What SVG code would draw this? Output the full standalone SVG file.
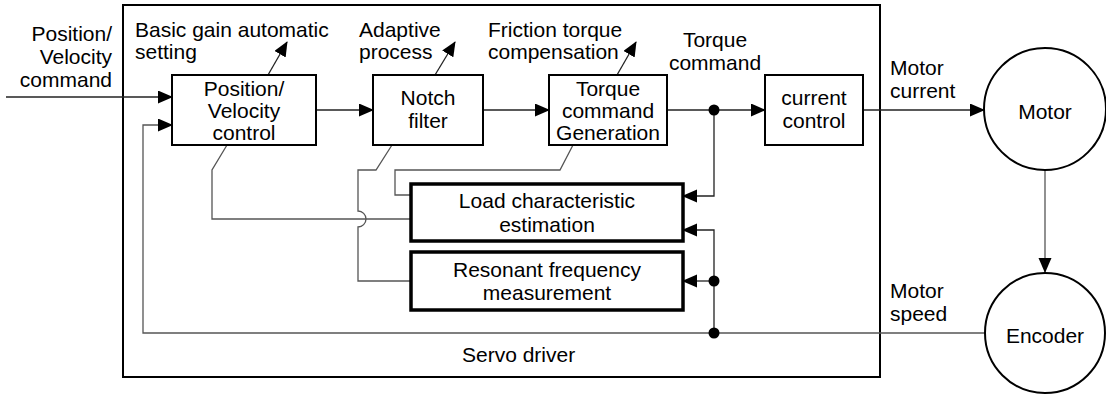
<svg xmlns="http://www.w3.org/2000/svg" width="1106" height="394" viewBox="0 0 1106 394">
<defs>
<marker id="ah" markerUnits="userSpaceOnUse" markerWidth="16" markerHeight="14" refX="14" refY="6.5" orient="auto">
<path d="M0,0 L15,6.5 L0,13 z" fill="#000"/>
</marker>
<style>
text{font-family:"Liberation Sans",Arial,sans-serif;font-size:21px;fill:#000}
.m{text-anchor:middle}
.e{text-anchor:end}
.box{fill:#fff;stroke:#000;stroke-width:2}
.tbox{fill:#fff;stroke:#000;stroke-width:3.5}
.c{fill:none;stroke:#222;stroke-width:1.3}
.g{fill:none;stroke:#555;stroke-width:1.3}
.a{marker-end:url(#ah)}
</style>
</defs>
<rect width="1106" height="394" fill="#fff"/>
<g id="servo-driver">
<rect x="123" y="5" width="757" height="372" fill="none" stroke="#000" stroke-width="2"/>
<text x="462" y="362">Servo driver</text>
</g>
<g id="connectors">
<path class="c a" d="M6,97 H172"/>
<path class="c a" d="M316,110 H373"/>
<path class="c a" d="M483,110 H549"/>
<path class="c a" d="M667,110 H765"/>
<path class="c a" d="M863,110 H984"/>
<path class="c a" d="M714,110 V196 H683"/>
<path class="g a" d="M1045,170 V272"/>
<path class="g a" d="M985,333 H143 V125 H172"/>
<path class="c a" d="M714,333 V230 H683"/>
<path class="c a" d="M714,281 H683"/>
<path class="c a" d="M268,75 L287,42"/>
<path class="c a" d="M435,75 L455,42"/>
<path class="c a" d="M617,75 L636,42"/>
<path class="g" d="M227,145 L212,170 V219 H411"/>
<path class="g" d="M392,145 L376,170 H358 V211 A8,8 0 0 1 358,227 V281 H411"/>
<path class="g" d="M573,145 L560,170 H395 V195 H411"/>
<circle cx="714" cy="110" r="5.5" fill="#000"/>
<circle cx="714" cy="281" r="5.5" fill="#000"/>
<circle cx="714" cy="333" r="5.5" fill="#000"/>
</g>
<g id="labels">
<text class="e" x="112" y="41">Position/</text>
<text class="e" x="112" y="64">Velocity</text>
<text class="e" x="112" y="87">command</text>
<text x="135" y="37">Basic gain automatic</text>
<text x="135" y="59">setting</text>
<text x="359" y="37">Adaptive</text>
<text x="359" y="59">process</text>
<text x="488" y="37">Friction torque</text>
<text x="488" y="59">compensation</text>
<text class="m" x="715" y="47">Torque</text>
<text class="m" x="715" y="70">command</text>
<text x="890" y="75">Motor</text>
<text x="890" y="98">current</text>
<text x="890" y="298">Motor</text>
<text x="890" y="321">speed</text>
</g>
<g id="pv-control">
<rect class="box" x="172" y="75" width="144" height="70"/>
<text class="m" x="244" y="96">Position/</text>
<text class="m" x="244" y="118">Velocity</text>
<text class="m" x="244" y="140">control</text>
</g>
<g id="notch-filter">
<rect class="box" x="373" y="75" width="110" height="70"/>
<text class="m" x="428" y="105">Notch</text>
<text class="m" x="428" y="128">filter</text>
</g>
<g id="torque-gen">
<rect class="box" x="549" y="75" width="118" height="70"/>
<text class="m" x="608" y="96">Torque</text>
<text class="m" x="608" y="118">command</text>
<text class="m" x="608" y="140">Generation</text>
</g>
<g id="current-control">
<rect class="box" x="765" y="75" width="98" height="70"/>
<text class="m" x="814" y="105">current</text>
<text class="m" x="814" y="128">control</text>
</g>
<g id="load-estimation">
<rect class="tbox" x="411" y="184" width="272" height="57"/>
<text class="m" x="547" y="208">Load characteristic</text>
<text class="m" x="547" y="232">estimation</text>
</g>
<g id="resonant-measurement">
<rect class="tbox" x="411" y="252" width="272" height="58"/>
<text class="m" x="547" y="277">Resonant frequency</text>
<text class="m" x="547" y="300">measurement</text>
</g>
<g id="motor">
<circle cx="1045" cy="109" r="61" fill="#fff" stroke="#000" stroke-width="2"/>
<text class="m" x="1045" y="119">Motor</text>
</g>
<g id="encoder">
<circle cx="1045" cy="333" r="60" fill="#fff" stroke="#000" stroke-width="2"/>
<text class="m" x="1045" y="343">Encoder</text>
</g>
</svg>
